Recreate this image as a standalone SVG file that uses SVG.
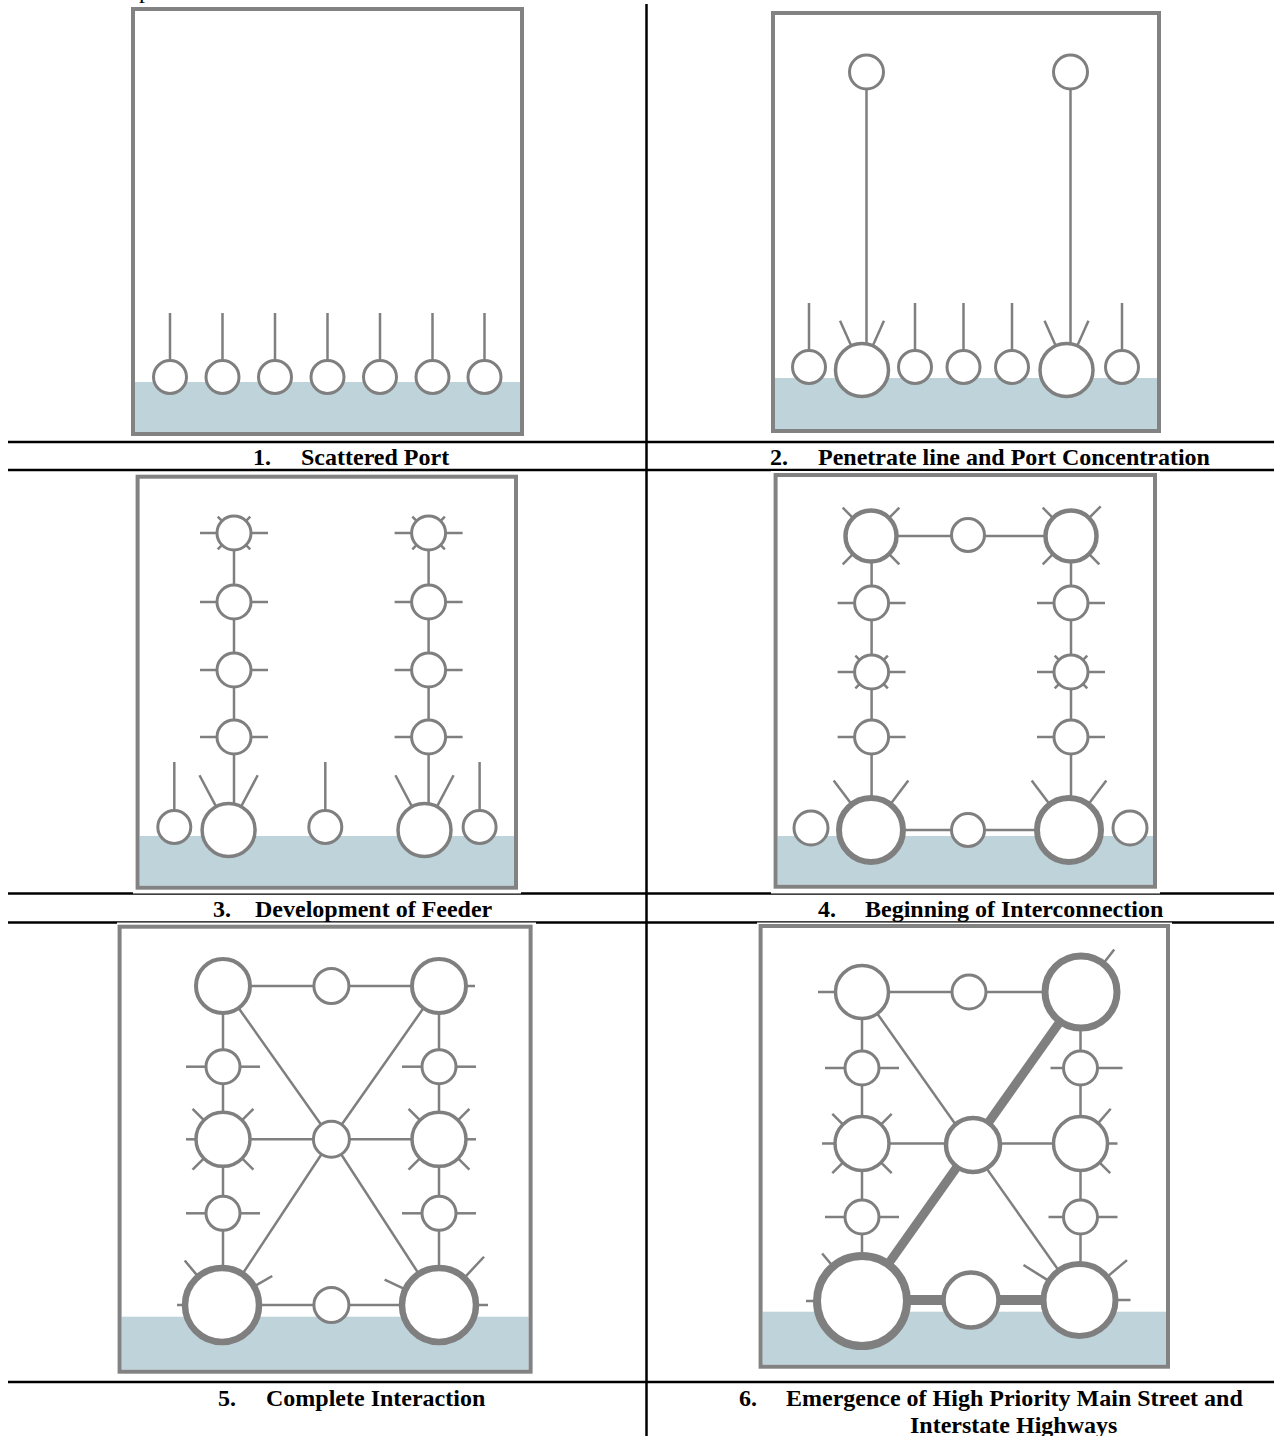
<svg xmlns="http://www.w3.org/2000/svg" width="1274" height="1436" viewBox="0 0 1274 1436">
  <style>
    .sheet{fill:#fff}
    .frame{fill:none;stroke:#828282;stroke-width:4}
    .water{fill:#bfd3db}
    .n{fill:#fff;stroke:#7f7f7f;stroke-width:3}
    .t{stroke:#7f7f7f;stroke-width:2.5;fill:none}
    .e{stroke:#7f7f7f;stroke-width:2.5;fill:none}
    .hw{stroke:#7f7f7f;stroke-width:9;fill:none}
    .rule{stroke:#000;stroke-width:2.5}
    .lbl{font-family:"Liberation Serif","Times New Roman",serif;font-weight:bold;font-size:24px;fill:#000}
    .cut{font-family:"Liberation Serif","Times New Roman",serif;font-size:24px;fill:#000}
  </style>

  <!-- table rules -->
  <g id="table">
    <text class="cut" x="139" y="-2">p</text>
    <line class="rule" x1="646.5" y1="4" x2="646.5" y2="1436"/>
    <line class="rule" x1="8" y1="442" x2="1274" y2="442"/>
    <line class="rule" x1="8" y1="470" x2="1274" y2="470"/>
    <line class="rule" x1="8" y1="893.5" x2="1274" y2="893.5"/>
    <line class="rule" x1="8" y1="922.5" x2="1274" y2="922.5"/>
    <line class="rule" x1="8" y1="1382" x2="1274" y2="1382"/>
  </g>

  <!-- ================= 1. Scattered Port ================= -->
  <g id="panel1">
    <rect class="sheet" x="133" y="9" width="389" height="425"/>
    <rect class="water" x="135" y="382" width="385" height="50"/>
    <rect class="frame" x="133" y="9" width="389" height="425"/>
    <g id="p1-n1" transform="translate(170,377)"><line class="t" y1="-16" y2="-64"/><circle class="n" r="16.5"/></g>
    <g id="p1-n2" transform="translate(222.5,377)"><line class="t" y1="-16" y2="-64"/><circle class="n" r="16.5"/></g>
    <g id="p1-n3" transform="translate(275,377)"><line class="t" y1="-16" y2="-64"/><circle class="n" r="16.5"/></g>
    <g id="p1-n4" transform="translate(327.5,377)"><line class="t" y1="-16" y2="-64"/><circle class="n" r="16.5"/></g>
    <g id="p1-n5" transform="translate(380,377)"><line class="t" y1="-16" y2="-64"/><circle class="n" r="16.5"/></g>
    <g id="p1-n6" transform="translate(432.5,377)"><line class="t" y1="-16" y2="-64"/><circle class="n" r="16.5"/></g>
    <g id="p1-n7" transform="translate(484.5,377)"><line class="t" y1="-16" y2="-64"/><circle class="n" r="16.5"/></g>
  </g>

  <!-- ================= 2. Penetrate line ================= -->
  <g id="panel2">
    <rect class="sheet" x="773" y="13" width="386" height="418"/>
    <rect class="water" x="775" y="378" width="382" height="51"/>
    <rect class="frame" x="773" y="13" width="386" height="418"/>
    <g id="p2-connectors">
      <line class="e" x1="866.5" y1="88" x2="866.5" y2="345"/>
      <line class="e" x1="1070.5" y1="88" x2="1070.5" y2="345"/>
    </g>
    <g id="p2-top1" transform="translate(866.5,72)"><circle class="n" r="17"/></g>
    <g id="p2-top2" transform="translate(1070.5,72)"><circle class="n" r="17"/></g>
    <g id="p2-n1" transform="translate(809,367)"><line class="t" y1="-16" y2="-64"/><circle class="n" r="16.5"/></g>
    <g id="p2-big1" transform="translate(862,370)">
      <line class="t" y1="-26" y2="-54" transform="rotate(-24)"/>
      <line class="t" y1="-26" y2="-54" transform="rotate(24)"/>
      <circle class="n" r="26.5" style="stroke-width:3.5"/>
    </g>
    <g id="p2-n2" transform="translate(915,367)"><line class="t" y1="-16" y2="-64"/><circle class="n" r="16.5"/></g>
    <g id="p2-n3" transform="translate(963.5,367)"><line class="t" y1="-16" y2="-64"/><circle class="n" r="16.5"/></g>
    <g id="p2-n4" transform="translate(1012,367)"><line class="t" y1="-16" y2="-64"/><circle class="n" r="16.5"/></g>
    <g id="p2-big2" transform="translate(1066.5,370)">
      <line class="t" y1="-26" y2="-54" transform="rotate(-24)"/>
      <line class="t" y1="-26" y2="-54" transform="rotate(24)"/>
      <circle class="n" r="26.5" style="stroke-width:3.5"/>
    </g>
    <g id="p2-n5" transform="translate(1122,367)"><line class="t" y1="-16" y2="-64"/><circle class="n" r="16.5"/></g>
  </g>

  <!-- ================= 3. Development of Feeder ================= -->
  <g id="panel3">
    <rect class="sheet" x="133" y="473" width="388" height="420.5"/>
    <rect class="water" x="139.6" y="836" width="374.4" height="49.7"/>
    <rect class="frame" x="137.6" y="476.7" width="378.4" height="411"/>
    <g id="p3-connectors">
      <line class="e" x1="234" y1="533" x2="234" y2="805"/>
      <line class="e" x1="428.6" y1="533" x2="428.6" y2="805"/>
    </g>
    <g id="p3-l1" transform="translate(234,533)">
      <line class="t" x1="-17" x2="-34"/><line class="t" x1="17" x2="34"/>
      <line class="t" y1="-14" y2="-23" transform="rotate(-45)"/><line class="t" y1="-14" y2="-23" transform="rotate(45)"/>
      <line class="t" y1="-14" y2="-23" transform="rotate(135)"/><line class="t" y1="-14" y2="-23" transform="rotate(-135)"/>
      <circle class="n" r="17"/>
    </g>
    <g id="p3-l2" transform="translate(234,602)"><line class="t" x1="-17" x2="-34"/><line class="t" x1="17" x2="34"/><circle class="n" r="17"/></g>
    <g id="p3-l3" transform="translate(234,670)"><line class="t" x1="-17" x2="-34"/><line class="t" x1="17" x2="34"/><circle class="n" r="17"/></g>
    <g id="p3-l4" transform="translate(234,737)"><line class="t" x1="-17" x2="-34"/><line class="t" x1="17" x2="34"/><circle class="n" r="17"/></g>
    <g id="p3-r1" transform="translate(428.6,533)">
      <line class="t" x1="-17" x2="-34"/><line class="t" x1="17" x2="34"/>
      <line class="t" y1="-14" y2="-23" transform="rotate(-45)"/><line class="t" y1="-14" y2="-23" transform="rotate(45)"/>
      <line class="t" y1="-14" y2="-23" transform="rotate(135)"/><line class="t" y1="-14" y2="-23" transform="rotate(-135)"/>
      <circle class="n" r="17"/>
    </g>
    <g id="p3-r2" transform="translate(428.6,602)"><line class="t" x1="-17" x2="-34"/><line class="t" x1="17" x2="34"/><circle class="n" r="17"/></g>
    <g id="p3-r3" transform="translate(428.6,670)"><line class="t" x1="-17" x2="-34"/><line class="t" x1="17" x2="34"/><circle class="n" r="17"/></g>
    <g id="p3-r4" transform="translate(428.6,737)"><line class="t" x1="-17" x2="-34"/><line class="t" x1="17" x2="34"/><circle class="n" r="17"/></g>
    <g id="p3-s1" transform="translate(174.3,827)"><line class="t" y1="-16" y2="-65"/><circle class="n" r="16.5"/></g>
    <g id="p3-big1" transform="translate(228.6,830)">
      <line class="t" y1="-26" y2="-62" transform="rotate(-28)"/>
      <line class="t" y1="-26" y2="-62" transform="rotate(28)"/>
      <circle class="n" r="26.5" style="stroke-width:3.5"/>
    </g>
    <g id="p3-s2" transform="translate(325.3,827)"><line class="t" y1="-16" y2="-65"/><circle class="n" r="16.5"/></g>
    <g id="p3-big2" transform="translate(424.5,830)">
      <line class="t" y1="-26" y2="-62" transform="rotate(-28)"/>
      <line class="t" y1="-26" y2="-62" transform="rotate(28)"/>
      <circle class="n" r="26.5" style="stroke-width:3.5"/>
    </g>
    <g id="p3-s3" transform="translate(479.6,827)"><line class="t" y1="-16" y2="-65"/><circle class="n" r="16.5"/></g>
  </g>

  <!-- ================= 4. Beginning of Interconnection ================= -->
  <g id="panel4">
    <rect class="sheet" x="771" y="471" width="389" height="422.5"/>
    <rect class="water" x="777.6" y="836" width="375.4" height="48.7"/>
    <rect class="frame" x="775.6" y="475" width="379.4" height="411.7"/>
    <g id="p4-connectors">
      <line class="e" x1="871" y1="536" x2="1071" y2="536"/>
      <line class="e" x1="871" y1="830" x2="1069" y2="830"/>
      <line class="e" x1="871.6" y1="536" x2="871.6" y2="830"/>
      <line class="e" x1="1071" y1="536" x2="1071" y2="830"/>
    </g>
    <g id="p4-tl" transform="translate(871,536)">
      <line class="t" y1="-25" y2="-40" transform="rotate(-45)"/><line class="t" y1="-25" y2="-40" transform="rotate(45)"/>
      <line class="t" y1="-25" y2="-40" transform="rotate(135)"/><line class="t" y1="-25" y2="-40" transform="rotate(-135)"/>
      <circle class="n" r="25.5" style="stroke-width:4.5"/>
    </g>
    <g id="p4-tm" transform="translate(968,535)"><circle class="n" r="16.5"/></g>
    <g id="p4-tr" transform="translate(1071,536)">
      <line class="t" y1="-25" y2="-40" transform="rotate(-45)"/><line class="t" y1="-25" y2="-42" transform="rotate(45)"/>
      <line class="t" y1="-25" y2="-40" transform="rotate(135)"/><line class="t" y1="-25" y2="-40" transform="rotate(-135)"/>
      <circle class="n" r="25.5" style="stroke-width:4.5"/>
    </g>
    <g id="p4-l2" transform="translate(871.6,603)"><line class="t" x1="-17" x2="-34"/><line class="t" x1="17" x2="34"/><circle class="n" r="17"/></g>
    <g id="p4-l3" transform="translate(871.6,672)">
      <line class="t" x1="-17" x2="-34"/><line class="t" x1="17" x2="34"/>
      <line class="t" y1="-14" y2="-23" transform="rotate(-45)"/><line class="t" y1="-14" y2="-23" transform="rotate(45)"/>
      <line class="t" y1="-14" y2="-23" transform="rotate(135)"/><line class="t" y1="-14" y2="-23" transform="rotate(-135)"/>
      <circle class="n" r="17"/>
    </g>
    <g id="p4-l4" transform="translate(871.6,737)"><line class="t" x1="-17" x2="-34"/><line class="t" x1="17" x2="34"/><circle class="n" r="17"/></g>
    <g id="p4-r2" transform="translate(1071,603)"><line class="t" x1="-17" x2="-34"/><line class="t" x1="17" x2="34"/><circle class="n" r="17"/></g>
    <g id="p4-r3" transform="translate(1071,672)">
      <line class="t" x1="-17" x2="-34"/><line class="t" x1="17" x2="34"/>
      <line class="t" y1="-14" y2="-23" transform="rotate(-45)"/><line class="t" y1="-14" y2="-23" transform="rotate(45)"/>
      <line class="t" y1="-14" y2="-23" transform="rotate(135)"/><line class="t" y1="-14" y2="-23" transform="rotate(-135)"/>
      <circle class="n" r="17"/>
    </g>
    <g id="p4-r4" transform="translate(1071,737)"><line class="t" x1="-17" x2="-34"/><line class="t" x1="17" x2="34"/><circle class="n" r="17"/></g>
    <g id="p4-s1" transform="translate(811,828)"><circle class="n" r="17"/></g>
    <g id="p4-bl" transform="translate(871,830)">
      <line class="t" y1="-31" y2="-62" transform="rotate(-37)"/>
      <line class="t" y1="-31" y2="-62" transform="rotate(37)"/>
      <circle class="n" r="32" style="stroke-width:6"/>
    </g>
    <g id="p4-bm" transform="translate(968,830)"><circle class="n" r="16.5"/></g>
    <g id="p4-br" transform="translate(1069,830)">
      <line class="t" y1="-31" y2="-62" transform="rotate(-37)"/>
      <line class="t" y1="-31" y2="-62" transform="rotate(37)"/>
      <circle class="n" r="32" style="stroke-width:6"/>
    </g>
    <g id="p4-s2" transform="translate(1130,828)"><circle class="n" r="17"/></g>
  </g>

  <!-- ================= 5. Complete Interaction ================= -->
  <g id="panel5">
    <rect class="sheet" x="117" y="922.5" width="419" height="454.5"/>
    <rect class="water" x="121.6" y="1316.7" width="407" height="53"/>
    <rect class="frame" x="119.6" y="926.7" width="411" height="445"/>
    <g id="p5-connectors">
      <line class="e" x1="223" y1="986" x2="439" y2="986"/>
      <line class="e" x1="223" y1="1139.3" x2="439" y2="1139.3"/>
      <line class="e" x1="222" y1="1305" x2="439" y2="1305"/>
      <line class="e" x1="223" y1="986" x2="223" y2="1305"/>
      <line class="e" x1="439" y1="986" x2="439" y2="1305"/>
      <polyline class="e" points="223,986 331.4,1139.3 439,1305"/>
      <polyline class="e" points="439,986 331.4,1139.3 222,1305"/>
    </g>
    <g id="p5-tl" transform="translate(223,986)"><circle class="n" r="27" style="stroke-width:4"/></g>
    <g id="p5-tm" transform="translate(331.4,986)"><circle class="n" r="17.5"/></g>
    <g id="p5-tr" transform="translate(439,986)"><line class="t" x1="26" x2="36"/><circle class="n" r="27" style="stroke-width:4"/></g>
    <g id="p5-l2" transform="translate(223,1066.7)"><line class="t" x1="-17" x2="-37"/><line class="t" x1="17" x2="37"/><circle class="n" r="17"/></g>
    <g id="p5-r2" transform="translate(439,1066.7)"><line class="t" x1="-17" x2="-37"/><line class="t" x1="17" x2="37"/><circle class="n" r="17"/></g>
    <g id="p5-l3" transform="translate(223,1139.3)">
      <line class="t" x1="-26" x2="-37"/>
      <line class="t" y1="-26" y2="-43" transform="rotate(-45)"/><line class="t" y1="-26" y2="-43" transform="rotate(45)"/>
      <line class="t" y1="-26" y2="-43" transform="rotate(135)"/><line class="t" y1="-26" y2="-43" transform="rotate(-135)"/>
      <circle class="n" r="27" style="stroke-width:3.5"/>
    </g>
    <g id="p5-c" transform="translate(331.4,1139.3)"><circle class="n" r="18"/></g>
    <g id="p5-r3" transform="translate(439,1139.3)">
      <line class="t" x1="26" x2="37"/>
      <line class="t" y1="-26" y2="-43" transform="rotate(-45)"/><line class="t" y1="-26" y2="-43" transform="rotate(45)"/>
      <line class="t" y1="-26" y2="-43" transform="rotate(135)"/><line class="t" y1="-26" y2="-43" transform="rotate(-135)"/>
      <circle class="n" r="27" style="stroke-width:3.5"/>
    </g>
    <g id="p5-l4" transform="translate(223,1213.3)"><line class="t" x1="-17" x2="-37"/><line class="t" x1="17" x2="37"/><circle class="n" r="17"/></g>
    <g id="p5-r4" transform="translate(439,1213.3)"><line class="t" x1="-17" x2="-37"/><line class="t" x1="17" x2="37"/><circle class="n" r="17"/></g>
    <g id="p5-bl" transform="translate(222,1305)">
      <line class="t" x1="-36" x2="-45"/>
      <line class="t" y1="-36" y2="-58" transform="rotate(-40)"/>
      <line class="t" y1="-36" y2="-58" transform="rotate(60)"/>
      <circle class="n" r="37" style="stroke-width:6.5"/>
    </g>
    <g id="p5-bm" transform="translate(331.4,1305)"><circle class="n" r="17.5"/></g>
    <g id="p5-br" transform="translate(439,1305)">
      <line class="t" x1="36" x2="49"/>
      <line class="t" y1="-36" y2="-60" transform="rotate(-65)"/>
      <line class="t" y1="-36" y2="-66" transform="rotate(43)"/>
      <circle class="n" r="37" style="stroke-width:6.5"/>
    </g>
  </g>

  <!-- ================= 6. Main street and highways ================= -->
  <g id="panel6">
    <rect class="sheet" x="757" y="922.5" width="415" height="449.5"/>
    <rect class="water" x="762.6" y="1311.7" width="403.4" height="53"/>
    <rect class="frame" x="760.6" y="926" width="407.4" height="440.7"/>
    <g id="p6-connectors">
      <line class="e" x1="862" y1="992" x2="1081" y2="992"/>
      <line class="e" x1="862" y1="1143.5" x2="1080.5" y2="1143.5"/>
      <line class="e" x1="862" y1="992" x2="862" y2="1301"/>
      <line class="e" x1="1080.5" y1="992" x2="1080.5" y2="1300"/>
      <line class="e" x1="862" y1="992" x2="1079.5" y2="1300"/>
      <line class="hw" x1="862" y1="1301" x2="1081" y2="992"/>
      <line class="hw" x1="862" y1="1300" x2="1079.5" y2="1300" style="stroke-width:10"/>
    </g>
    <g id="p6-tl" transform="translate(862,992)"><line class="t" x1="-26" x2="-44"/><circle class="n" r="26.5" style="stroke-width:3.5"/></g>
    <g id="p6-tm" transform="translate(969,992)"><circle class="n" r="17"/></g>
    <g id="p6-tr" transform="translate(1081,992)"><line class="t" y1="-35" y2="-54" transform="rotate(38)"/><circle class="n" r="36" style="stroke-width:7"/></g>
    <g id="p6-l2" transform="translate(862,1068)"><line class="t" x1="-17" x2="-37"/><line class="t" x1="17" x2="37"/><circle class="n" r="17"/></g>
    <g id="p6-r2" transform="translate(1080.5,1068)"><line class="t" x1="-17" x2="-30"/><line class="t" x1="17" x2="42"/><circle class="n" r="17"/></g>
    <g id="p6-l3" transform="translate(862,1143.5)">
      <line class="t" x1="-26" x2="-40"/>
      <line class="t" y1="-26" y2="-42" transform="rotate(-45)"/><line class="t" y1="-26" y2="-42" transform="rotate(45)"/>
      <line class="t" y1="-26" y2="-42" transform="rotate(135)"/><line class="t" y1="-26" y2="-42" transform="rotate(-135)"/>
      <circle class="n" r="27" style="stroke-width:3.5"/>
    </g>
    <g id="p6-c" transform="translate(973,1145)"><circle class="n" r="27" style="stroke-width:4.5"/></g>
    <g id="p6-r3" transform="translate(1080.5,1143.5)">
      <line class="t" x1="26" x2="37"/>
      <line class="t" y1="-26" y2="-46" transform="rotate(41)"/>
      <line class="t" y1="-26" y2="-42" transform="rotate(135)"/>
      <circle class="n" r="27" style="stroke-width:3.5"/>
    </g>
    <g id="p6-l4" transform="translate(862,1217)"><line class="t" x1="-17" x2="-37"/><line class="t" x1="17" x2="37"/><circle class="n" r="17"/></g>
    <g id="p6-r4" transform="translate(1080.5,1217)"><line class="t" x1="-17" x2="-32"/><line class="t" x1="17" x2="37"/><circle class="n" r="17"/></g>
    <g id="p6-bl" transform="translate(862,1301)">
      <line class="t" x1="-44" x2="-56"/>
      <line class="t" y1="-44" y2="-62" transform="rotate(-40)"/>
      <circle class="n" r="45" style="stroke-width:8"/>
    </g>
    <g id="p6-bm" transform="translate(971,1300)"><circle class="n" r="27.5" style="stroke-width:4.5"/></g>
    <g id="p6-br" transform="translate(1079.5,1300)">
      <line class="t" x1="35" x2="51"/>
      <line class="t" y1="-38" y2="-66" transform="rotate(-58)"/>
      <line class="t" y1="-36" y2="-62" transform="rotate(50)"/>
      <circle class="n" r="36" style="stroke-width:6"/>
    </g>
  </g>

  <!-- captions -->
  <g id="captions">
    <text class="lbl" x="253" y="465">1.</text>
    <text class="lbl" x="301" y="465">Scattered Port</text>
    <text class="lbl" x="770" y="465">2.</text>
    <text class="lbl" x="818" y="465">Penetrate line and Port Concentration</text>
    <text class="lbl" x="213" y="916.5">3.</text>
    <text class="lbl" x="255" y="916.5">Development of Feeder</text>
    <text class="lbl" x="818" y="916.5">4.</text>
    <text class="lbl" x="865" y="916.5">Beginning of Interconnection</text>
    <text class="lbl" x="218" y="1405.5">5.</text>
    <text class="lbl" x="266" y="1405.5">Complete Interaction</text>
    <text class="lbl" x="739" y="1405.5">6.</text>
    <text class="lbl" x="786" y="1405.5">Emergence of High Priority Main Street and</text>
    <text class="lbl" x="910" y="1433">Interstate Highways</text>
  </g>
</svg>
